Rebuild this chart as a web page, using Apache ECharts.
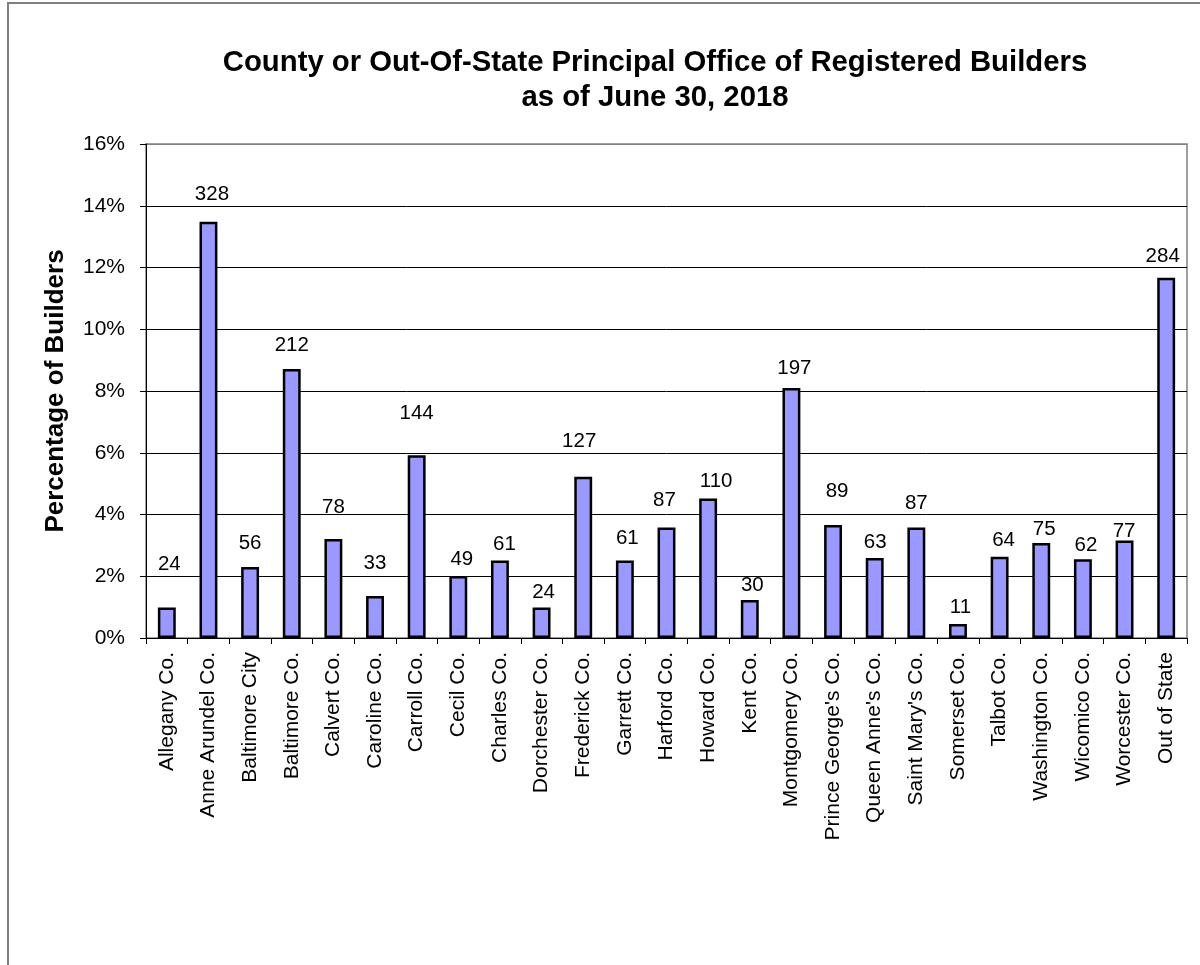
<!DOCTYPE html>
<html>
<head>
<meta charset="utf-8">
<script src="https://cdn.jsdelivr.net/npm/echarts@6/dist/echarts.min.js"></script>
<style>
  html, body { margin: 0; padding: 0; background: #fff; }
  #chart { width: 1200px; height: 965px; }
</style>
</head>
<body>
<div id="chart"></div>
<script>
// counties (x axis)
var counties = ['Allegany Co.', 'Anne Arundel Co.', 'Baltimore City', 'Baltimore Co.', 'Calvert Co.',
  'Caroline Co.', 'Carroll Co.', 'Cecil Co.', 'Charles Co.', 'Dorchester Co.', 'Frederick Co.',
  'Garrett Co.', 'Harford Co.', 'Howard Co.', 'Kent Co.', 'Montgomery Co.', "Prince George's Co.",
  "Queen Anne's Co.", "Saint Mary's Co.", 'Somerset Co.', 'Talbot Co.', 'Washington Co.',
  'Wicomico Co.', 'Worcester Co.', 'Out of State']
// number of builders (bar labels)
var builderCounts = [24, 328, 56, 212, 78, 33, 144, 49, 61, 24, 127, 61, 87, 110, 30, 197, 89, 63, 87, 11, 64, 75, 62, 77, 284]
// share of builders in percent (bar heights)
var builderPct = [0.99, 13.48, 2.30, 8.71, 3.21, 1.36, 5.92, 2.01, 2.51, 0.99, 5.22, 2.51, 3.58, 4.52, 1.23,
  8.10, 3.66, 2.59, 3.58, 0.45, 2.63, 3.08, 2.55, 3.16, 11.67]
// y axis ticks
var yTicks = [0, 2, 4, 6, 8, 10, 12, 14, 16]

// the labels were hand placed in the original, so nudge each one (px)
var labelGap = [43, 27, 23, 23.5, 31, 32, 41.5, 16.5, 16, 14.5, 34.7, 21.7, 27, 17, 14.5, 19, 33.5, 15.5, 23.5, 16, 16, 12.7, 13, 8.7, 21]
var labelShift = [2.5, 3.5, 0, 0, 0, 0, 0, 3.5, 4.5, 2, -4, 2.5, -2, 8, 2.5, 3, 4, 0.5, 0, 2.5, 4, 3, 3, -0.5, -3.5]

var myChart = echarts.init(document.getElementById('chart'))
var font = 'Arial, "Liberation Sans", sans-serif'

// gridlines black, the top one is the grey plot border
var gridColors = yTicks.map(function (v, i) {
  return i === yTicks.length - 1 ? '#808080' : '#000'
})

var barData = builderPct.map(function (v, i) {
  return {
    value: v,
    label: { offset: [labelShift[i], 10 - labelGap[i]] }
  }
})

var option = {
  backgroundColor: '#fff',
  animation: false,
  title: {
    text: 'County or Out-Of-State Principal Office of Registered Builders\nas of June 30, 2018',
    left: 650,
    top: 40,
    textAlign: 'center',
    textStyle: {
      fontFamily: font,
      fontSize: 29.3,
      fontWeight: 'bold',
      color: '#000',
      lineHeight: 35
    }
  },
  graphic: [
    {
      type: 'rect',
      shape: { x: 8, y: 3, width: 1200, height: 1000 },
      style: { fill: 'none', stroke: '#808080', lineWidth: 2 },
      silent: true
    }
  ],
  grid: {
    left: 146,
    top: 144,
    right: 13,
    bottom: 327,
    show: true,
    borderColor: '#808080',
    borderWidth: 1.5
  },
  xAxis: {
    type: 'category',
    data: counties,
    axisLine: { lineStyle: { color: '#000', width: 1 } },
    axisTick: { show: true, length: 6, lineStyle: { color: '#000' } },
    axisLabel: {
      rotate: 90,
      interval: 0,
      margin: 14,
      fontFamily: font,
      fontSize: 21,
      color: '#000'
    }
  },
  yAxis: {
    type: 'value',
    min: yTicks[0],
    max: yTicks[yTicks.length - 1],
    interval: yTicks[1] - yTicks[0],
    name: 'Percentage of Builders',
    nameLocation: 'middle',
    nameGap: 77,
    nameTextStyle: {
      fontFamily: font,
      fontSize: 26,
      fontWeight: 'bold',
      color: '#000'
    },
    axisLine: { show: true, lineStyle: { color: '#000', width: 1 } },
    axisTick: { show: true, length: 6, lineStyle: { color: '#000' } },
    axisLabel: {
      formatter: '{value}%',
      margin: 21,
      fontFamily: font,
      fontSize: 21,
      color: '#000'
    },
    splitLine: { show: true, lineStyle: { color: gridColors, width: 1 } }
  },
  series: [
    {
      type: 'bar',
      data: barData,
      barWidth: '43%',
      itemStyle: {
        color: '#9999ff',
        borderColor: '#000',
        borderWidth: 2.5
      },
      label: {
        show: true,
        position: 'top',
        distance: 0,
        fontFamily: font,
        fontSize: 20.5,
        color: '#000',
        formatter: function (p) {
          return builderCounts[p.dataIndex]
        }
      }
    }
  ]
}
myChart.setOption(option)
</script>
</body>
</html>
